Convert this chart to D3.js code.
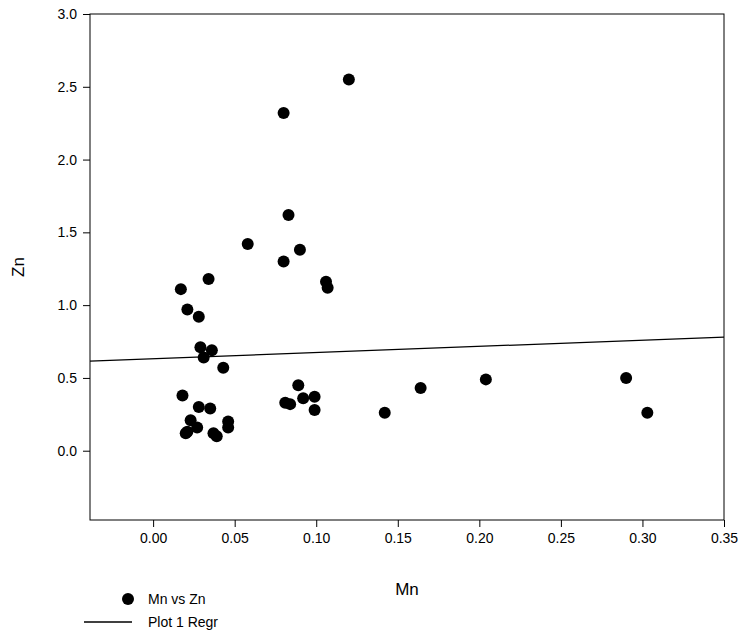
<!DOCTYPE html>
<html><head><meta charset="UTF-8">
<script src="https://d3js.org/d3.v7.min.js"></script>
<style>body{margin:0;background:#fff}text{font-family:"Liberation Sans",Arial,sans-serif}</style>
</head><body>
<script>
const mn = [0.120,0.080,0.083,0.090,0.080,0.058,0.106,0.107,0.017,0.034,0.021,0.028,0.029,0.036,0.031,0.043,0.018,0.089,0.081,0.084,0.092,0.099,0.099,0.142,0.164,0.204,0.290,0.303,0.028,0.035,0.046,0.046,0.023,0.027,0.021,0.020,0.037,0.039];
const zn = [2.55,2.32,1.62,1.38,1.30,1.42,1.16,1.12,1.11,1.18,0.97,0.92,0.71,0.69,0.64,0.57,0.38,0.45,0.33,0.32,0.36,0.37,0.28,0.26,0.43,0.49,0.50,0.26,0.30,0.29,0.20,0.16,0.21,0.16,0.13,0.12,0.12,0.10];
const regX = [-0.0387, 0.35];
const regY = [0.616, 0.78];
const xTicks = [0,0.05,0.10,0.15,0.20,0.25,0.30,0.35];
const yTicks = [0,0.5,1.0,1.5,2.0,2.5,3.0];

const W=740,H=636,L=90,R=724,T=14,B=520;
const svg=d3.select("body").append("svg").attr("width",W).attr("height",H);
const x=d3.scaleLinear().domain([-0.0387,0.35]).range([L,R]);
const y=d3.scaleLinear().domain([-0.476,3.0]).range([B,T]);

svg.append("rect").attr("x",L).attr("y",T).attr("width",R-L).attr("height",B-T).attr("fill","none").attr("stroke","#000");
const xa=svg.append("g").attr("transform",`translate(0,${B})`).call(d3.axisBottom(x).tickValues(xTicks).tickFormat(d3.format(".2f")).tickSize(7).tickPadding(6));
const ya=svg.append("g").attr("transform",`translate(${L},0)`).call(d3.axisLeft(y).tickValues(yTicks).tickFormat(d3.format(".1f")).tickSize(7).tickPadding(6));
[xa,ya].forEach(a=>{a.select(".domain").remove();a.selectAll("text").attr("font-size",14).attr("fill","#000");a.selectAll("line").attr("stroke","#000");});

svg.append("line").attr("x1",x(regX[0])).attr("y1",y(regY[0])).attr("x2",x(regX[1])).attr("y2",y(regY[1])).attr("stroke","#000").attr("stroke-width",1.3);
svg.selectAll("circle.p").data(mn).join("circle").attr("class","p").attr("cx",d=>x(d)).attr("cy",(d,i)=>y(zn[i])).attr("r",6).attr("fill","#000");

svg.append("text").attr("x",(L+R)/2).attr("y",595).attr("text-anchor","middle").attr("font-size",17).text("Mn");
svg.append("text").attr("transform","translate(24,267) rotate(-90)").attr("text-anchor","middle").attr("font-size",17).text("Zn");

svg.append("circle").attr("cx",128).attr("cy",599).attr("r",6).attr("fill","#000");
svg.append("text").attr("x",148).attr("y",604).attr("font-size",14).text("Mn vs Zn");
svg.append("line").attr("x1",84).attr("x2",132).attr("y1",622).attr("y2",622).attr("stroke","#000").attr("stroke-width",1.3);
svg.append("text").attr("x",148).attr("y",627).attr("font-size",14).text("Plot 1 Regr");
</script>
</body></html>
